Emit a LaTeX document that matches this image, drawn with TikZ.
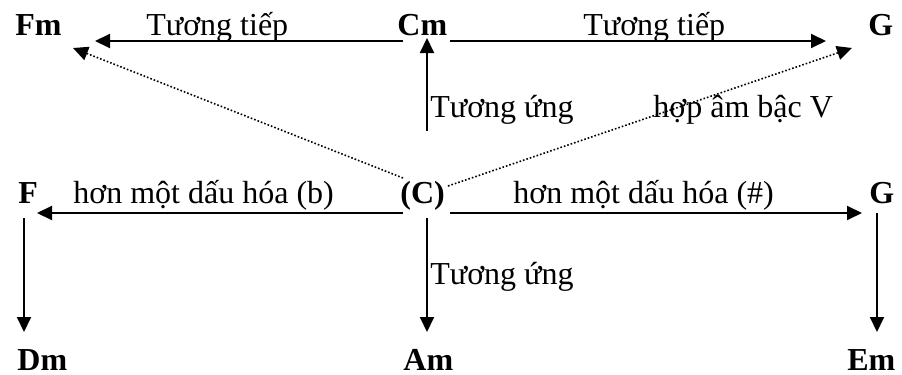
\documentclass[tikz,border=0pt]{standalone}
\usepackage{fontspec}
\setmainfont{Liberation Serif}
\usetikzlibrary{arrows.meta}

\tikzset{
    chord/.style={font=\bfseries, inner sep=0pt, anchor=base west},
    lbl/.style={inner sep=0pt, anchor=base west},
    conn/.style={line width=1pt, -{Triangle[length=7.5pt,width=7pt]}},
    dotconn/.style={line width=0.8pt, densely dotted, -{Triangle[length=7.5pt,width=7pt]}}
}

\begin{document}
\fontsize{16}{19}\selectfont
\begin{tikzpicture}[x=0.5pt,y=-0.5pt]
    
        \useasboundingbox (0,0) rectangle (902,375);
        
        % Chords
        \node[chord] (Fm) at (15,35) {Fm};
        \node[chord] (Cm) at (397,35) {Cm};
        \node[chord] (Gt) at (868,35) {G};
        \node[chord] (F) at (18,203) {F};
        \node[chord] (C) at (400,203) {(C)};
        \node[chord] (G) at (869,203) {G};
        \node[chord] (Dm) at (17,371) {Dm};
        \node[chord] (Am) at (403,371) {Am};
        \node[chord] (Em) at (847,371) {Em};
        
        % Labels
        \node[lbl] (tl) at (146,35) {Tương tiếp};
        \node[lbl] (tr) at (583,35) {Tương tiếp};
        \node[lbl] (ut) at (430,118) {Tương ứng};
        \node[lbl] (hv) at (653,118) {hợp âm bậc V};
        \node[lbl] (hb) at (73,203) {hơn một dấu hóa (b)};
        \node[lbl] (hs) at (513,203) {hơn một dấu hóa (\#)};
        \node[lbl] (ub) at (430,285) {Tương ứng};
        
        % Top row
        \draw[conn] ([shift={(6,6)}]Cm.base west) -- ([shift={(80,6)}]Fm.base west);
        \draw[conn] ([shift={(53,6)}]Cm.base west) -- ([shift={(-42,6)}]Gt.base west);
        \draw[conn] ([shift={(27,-72)}]C.base west) -- ([shift={(30,3)}]Cm.base west);
        
        % Middle row
        \draw[conn] ([shift={(3,10)}]C.base west) -- ([shift={(19,10)}]F.base west);
        \draw[conn] ([shift={(50,10)}]C.base west) -- ([shift={(-7,10)}]G.base west);
        
        % Down to the minor chords
        \draw[conn] ([shift={(27,15)}]C.base west) -- ([shift={(24,-39)}]Am.base west);
        \draw[conn] ([shift={(6,15)}]F.base west) -- ([shift={(7,-39)}]Dm.base west);
        \draw[conn] ([shift={(8,10)}]G.base west) -- ([shift={(30,-39)}]Em.base west);
        
        % Dotted diagonals
        \draw[dotconn] ([shift={(3,-25)}]C.base west) -- ([shift={(58,13)}]Fm.base west);
        \draw[dotconn] ([shift={(48,-17)}]C.base west) -- ([shift={(-16,13)}]Gt.base west);
        
    \end{tikzpicture}
\end{document}
